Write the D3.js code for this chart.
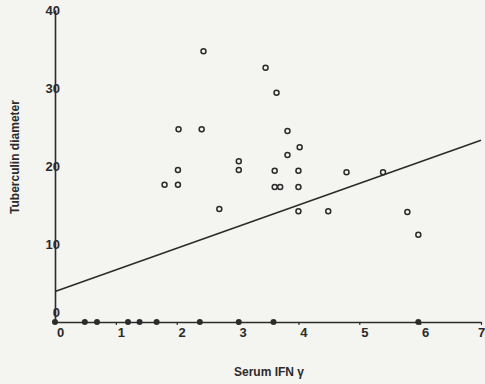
<!DOCTYPE html>
<html>
<head>
<meta charset="utf-8">
<script src="https://cdn.jsdelivr.net/npm/d3@7"></script>
<style>
  body { margin: 0; background: #f4f4f1; }
  svg { display: block; }
  text { font-family: "Liberation Sans", Arial, sans-serif; font-weight: bold; fill: #2b2b2b; }
</style>
</head>
<body>
<svg id="chart"></svg>
<script>
// responders (open circles): serum IFN gamma vs tuberculin diameter
var ifnPos = [2.44, 2.03, 2.41, 3.02, 3.02, 2.02, 1.80, 2.02, 2.70, 3.46, 3.64, 3.82, 4.02,
  3.82, 3.61, 4.00, 4.79, 5.39, 3.61, 3.70, 4.00, 4.00, 4.49, 5.79, 5.97];
var diamPos = [34.7, 24.7, 24.7, 20.6, 19.5, 19.5, 17.6, 17.6, 14.5, 32.6, 29.4, 24.5, 22.4,
  21.4, 19.4, 19.4, 19.2, 19.2, 17.3, 17.3, 17.3, 14.2, 14.2, 14.1, 11.2];

// non-responders (filled dots on the axis)
var ifnZero = [0, 0.49, 0.69, 1.2, 1.39, 1.67, 2.38, 3.02, 3.59, 5.97];

// regression line end points
var fitX = [0, 7];
var fitY = [3.9, 23.3];

var xTicks = [0, 1, 2, 3, 4, 5, 6, 7];
var yTicks = [0, 10, 20, 30, 40];

var width = 485, height = 384;
var ink = "#2b2b2b";

var svg = d3.select("#chart").attr("width", width).attr("height", height);

var x = d3.scaleLinear().domain([0, 7]).range([55, 481]);
var y = d3.scaleLinear().domain([0, 40]).range([322, 10]);

// x axis
var gx = svg.append("g")
  .attr("transform", "translate(0," + y(0) + ")")
  .call(d3.axisBottom(x).tickValues(xTicks).tickFormat(d3.format("d"))
    .tickSize(3).tickSizeOuter(0).tickPadding(3));
gx.select(".domain").attr("stroke", ink).attr("stroke-width", 1.6);
gx.selectAll(".tick line").attr("stroke", ink).attr("stroke-width", 1.2)
  .attr("opacity", function (d) { return d === 0 ? 0 : 1; });
gx.selectAll(".tick text")
  .attr("x", function (d) { return d === 7 ? 0 : 5; })
  .attr("font-size", 13)
  .attr("font-family", null)
  .attr("fill", ink);

// y axis
var gy = svg.append("g")
  .attr("transform", "translate(" + x(0) + ",0)")
  .call(d3.axisLeft(y).tickValues(yTicks).tickSize(0).tickSizeOuter(0).tickPadding(-5));
gy.select(".domain").attr("stroke", ink).attr("stroke-width", 1.6);
gy.selectAll(".tick text")
  .attr("font-size", 13)
  .attr("font-family", null)
  .attr("fill", ink)
  .attr("dy", function (d) { return d === 0 ? "-0.45em" : "0.32em"; });

// fitted line
svg.append("line")
  .attr("x1", x(fitX[0])).attr("y1", y(fitY[0]))
  .attr("x2", x(fitX[1])).attr("y2", y(fitY[1]))
  .attr("stroke", ink)
  .attr("stroke-width", 1.6);

// open circles
svg.append("g").selectAll("circle")
  .data(d3.zip(ifnPos, diamPos))
  .join("circle")
  .attr("cx", function (d) { return x(d[0]); })
  .attr("cy", function (d) { return y(d[1]); })
  .attr("r", 2.5)
  .attr("fill", "none")
  .attr("stroke", ink)
  .attr("stroke-width", 1.5);

// filled dots at zero
svg.append("g").selectAll("circle")
  .data(ifnZero)
  .join("circle")
  .attr("cx", function (d) { return x(d); })
  .attr("cy", y(0))
  .attr("r", 3)
  .attr("fill", ink);

// axis titles
svg.append("text")
  .attr("x", 269)
  .attr("y", 376)
  .attr("text-anchor", "middle")
  .attr("font-size", 12)
  .text("Serum IFN γ");

svg.append("text")
  .attr("transform", "translate(19,157) rotate(-90)")
  .attr("text-anchor", "middle")
  .attr("font-size", 12)
  .text("Tuberculin diameter");
</script>
</body>
</html>
